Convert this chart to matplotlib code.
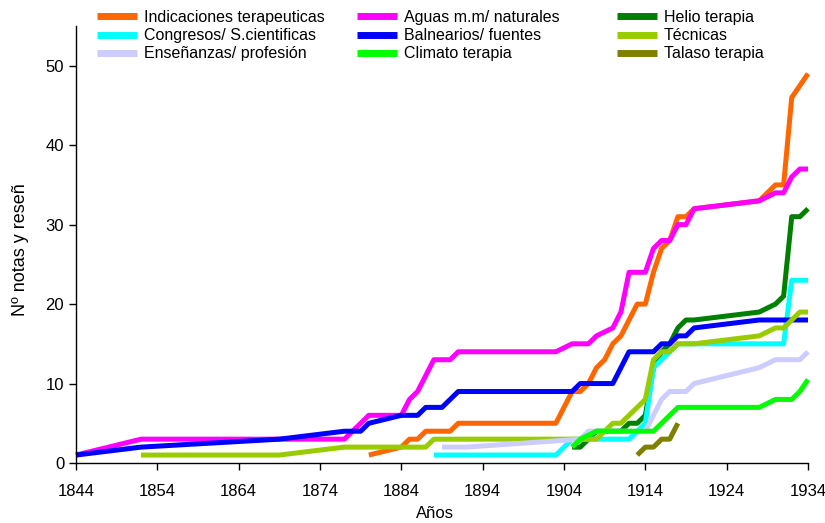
import matplotlib
matplotlib.use('Agg')
import matplotlib.pyplot as plt

plt.rcParams['font.family'] = ['Liberation Sans', 'DejaVu Sans']

# Indicaciones terapeuticas
ind_years = [1880, 1884, 1885, 1886, 1887, 1890, 1891, 1903, 1905, 1906, 1907, 1908, 1909,
             1910, 1911, 1912, 1913, 1914, 1915, 1916, 1917, 1918, 1919, 1920, 1928, 1930,
             1931, 1932, 1934]
ind_vals = [1, 2, 3, 3, 4, 4, 5, 5, 9, 9, 10, 12, 13, 15, 16, 18, 20, 20, 24, 27, 28, 31, 31,
            32, 33, 35, 35, 46, 49]

# Aguas m.m/ naturales
agu_years = [1844, 1852, 1877, 1880, 1884, 1885, 1886, 1888, 1890, 1891, 1903, 1905, 1907,
             1908, 1910, 1911, 1912, 1914, 1915, 1916, 1917, 1918, 1919, 1920, 1928, 1930,
             1931, 1932, 1933, 1934]
agu_vals = [1, 3, 3, 6, 6, 8, 9, 13, 13, 14, 14, 15, 15, 16, 17, 19, 24, 24, 27, 28, 28, 30,
            30, 32, 33, 34, 34, 36, 37, 37]

# Helio terapia
hel_years = [1905, 1906, 1907, 1908, 1911, 1912, 1913, 1914, 1915, 1916, 1917, 1918, 1919,
             1920, 1928, 1930, 1931, 1932, 1933, 1934]
hel_vals = [2, 2, 3, 4, 4, 5, 5, 6, 12, 14, 15, 17, 18, 18, 19, 20, 21, 31, 31, 32]

# Congresos/ S.cientificas
con_years = [1888, 1903, 1905, 1912, 1913, 1914, 1915, 1916, 1917, 1918, 1931, 1932, 1934]
con_vals = [1, 1, 3, 3, 4, 5, 12, 13, 14, 15, 15, 23, 23]

# Balnearios/ fuentes
bal_years = [1844, 1852, 1869, 1877, 1879, 1880, 1884, 1886, 1887, 1889, 1891, 1905, 1906,
             1910, 1912, 1915, 1916, 1917, 1918, 1919, 1920, 1928, 1934]
bal_vals = [1, 2, 3, 4, 4, 5, 6, 6, 7, 7, 9, 9, 10, 10, 14, 14, 15, 15, 16, 16, 17, 18, 18]

# Técnicas
tec_years = [1852, 1869, 1877, 1887, 1888, 1908, 1909, 1910, 1911, 1912, 1913, 1914, 1915,
             1916, 1917, 1918, 1920, 1928, 1930, 1931, 1933, 1934]
tec_vals = [1, 1, 2, 2, 3, 3, 4, 5, 5, 6, 7, 8, 13, 14, 14, 15, 15, 16, 17, 17, 19, 19]

# Enseñanzas/ profesión
ens_years = [1889, 1892, 1906, 1907, 1914, 1915, 1916, 1917, 1919, 1920, 1928, 1930, 1933, 1934]
ens_vals = [2, 2, 3, 4, 4, 6, 8, 9, 9, 10, 12, 13, 13, 14]

# Climato terapia
cli_years = [1905, 1906, 1908, 1915, 1918, 1928, 1930, 1932, 1933, 1934]
cli_vals = [2, 3, 4, 4, 7, 7, 8, 8, 9, 10.5]

# Talaso terapia
tal_years = [1913, 1914, 1915, 1916, 1917, 1918]
tal_vals = [1, 2, 2, 3, 3, 5]

series = [
    ('Indicaciones terapeuticas', ind_years, ind_vals, '#FF6600'),
    ('Aguas m.m/ naturales', agu_years, agu_vals, '#FF00FF'),
    ('Helio terapia', hel_years, hel_vals, '#008000'),
    ('Congresos/ S.cientificas', con_years, con_vals, '#00FFFF'),
    ('Balnearios/ fuentes', bal_years, bal_vals, '#0000FF'),
    ('Técnicas', tec_years, tec_vals, '#99CC00'),
    ('Enseñanzas/ profesión', ens_years, ens_vals, '#CCCCFF'),
    ('Climato terapia', cli_years, cli_vals, '#00FF00'),
    ('Talaso terapia', tal_years, tal_vals, '#808000'),
]

fig = plt.figure(figsize=(8.25, 5.23), dpi=100)
ax = fig.add_axes([76 / 825, 1 - 463 / 523, 732 / 825, 437 / 523])

lines = {}
for name, xs, ys, col in series:
    ln, = ax.plot(xs, ys, color=col, lw=3.6, solid_capstyle='butt', clip_on=False)
    lines[name] = ln

ax.set_xlim(1844, 1934)
ax.set_ylim(0, 55)
ax.set_xticks(range(1844, 1935, 10))
ax.set_yticks(range(0, 51, 10))
ax.tick_params(axis='both', labelsize=12, length=5, width=1, color='black', direction='out')
ax.tick_params(axis='x', pad=10)
for s in ['top', 'right']:
    ax.spines[s].set_visible(False)
for s in ['left', 'bottom']:
    ax.spines[s].set_linewidth(1)

fig.text(21 / 825, 1 - 250 / 523, 'Nº notas y reseñ', rotation=90, fontsize=13,
         ha='center', va='center')
fig.text(435 / 825, 1 - 513 / 523, 'Años', fontsize=12, ha='center', va='center')

# legend: three columns, each its own legend
cols = [
    (97, ['Indicaciones terapeuticas', 'Congresos/ S.cientificas', 'Enseñanzas/ profesión']),
    (357, ['Aguas m.m/ naturales', 'Balnearios/ fuentes', 'Climato terapia']),
    (617, ['Helio terapia', 'Técnicas', 'Talaso terapia']),
]
for x0, labs in cols:
    leg = fig.legend([lines[l] for l in labs], labs, loc='upper left',
                     bbox_to_anchor=(x0 / 825, 1 - 10 / 523), frameon=False,
                     borderpad=0, borderaxespad=0, handlelength=2.5, handletextpad=0.45,
                     labelspacing=0.2, prop={'size': 11.5})
    for h in leg.legend_handles:
        h.set_linewidth(5)

fig.savefig('out.png', dpi=100)
